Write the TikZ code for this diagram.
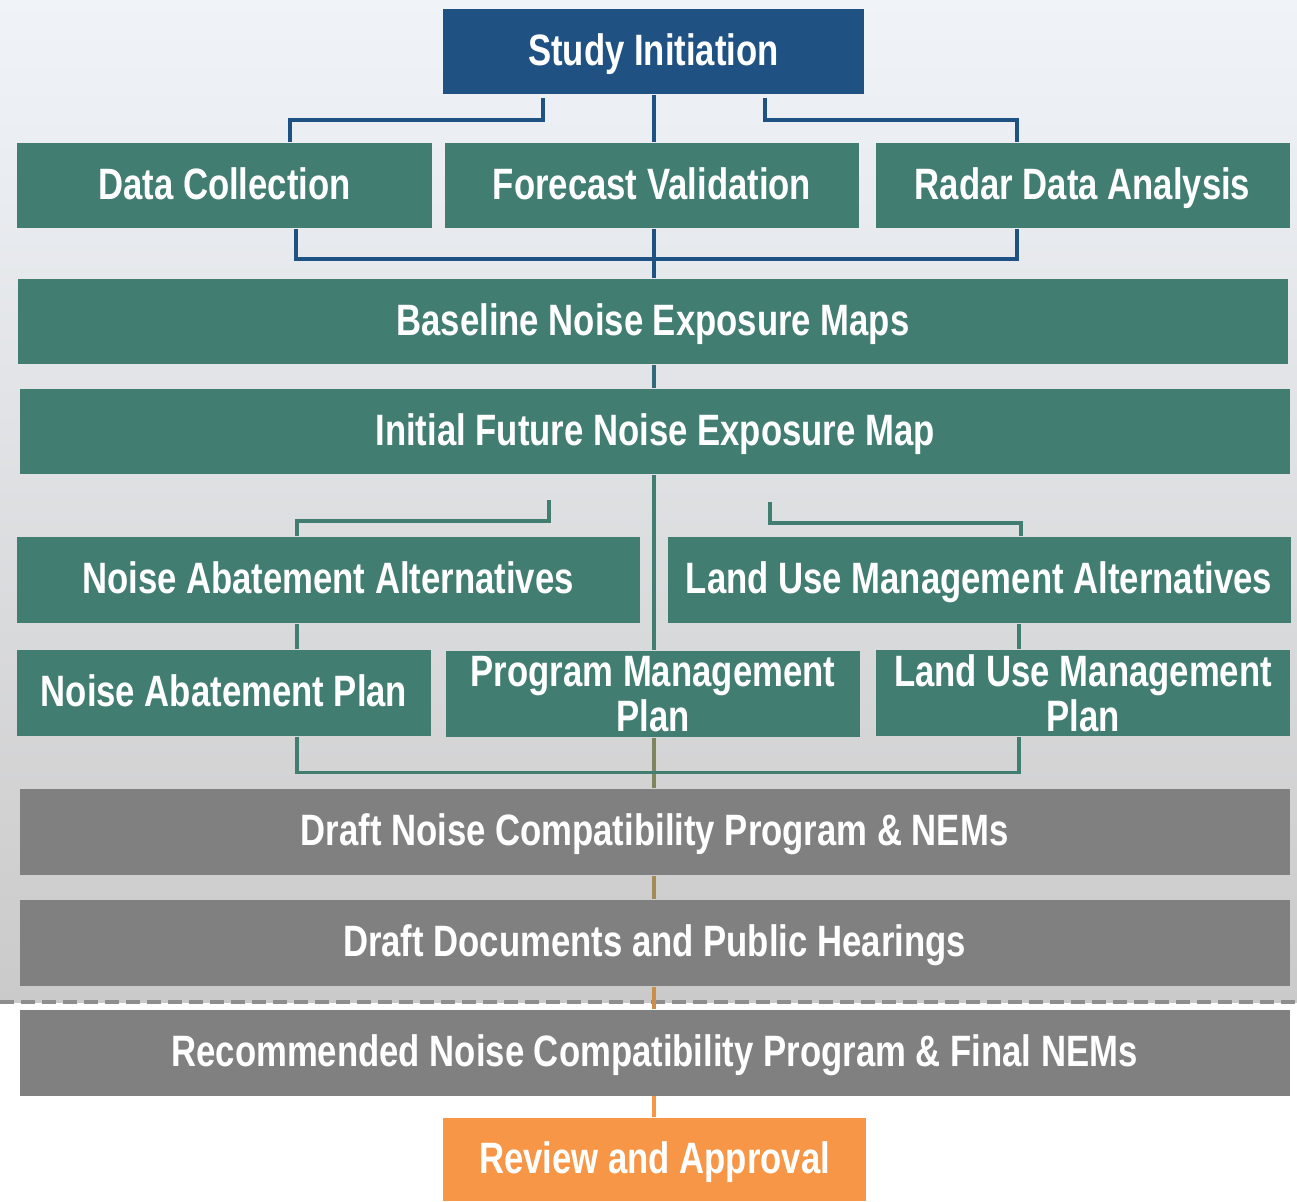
\documentclass[tikz,border=0pt]{standalone}
\usepackage{fontspec}
\setmainfont{Liberation Sans}[FakeStretch=0.79]

\definecolor{stepgreen}{HTML}{417D71}
\definecolor{stepblue}{HTML}{1F5282}
\definecolor{stepgray}{HTML}{808080}
\definecolor{steporange}{HTML}{F79646}
\definecolor{bgtop}{HTML}{F0F4F9}
\definecolor{bgbottom}{HTML}{CBCACA}

\begin{document}
\begin{tikzpicture}
  [box/.style={fill=stepgreen, text=white, inner sep=0pt, align=center,
     font=\bfseries\fontsize{12.5}{11.5}\selectfont, minimum height=0.85cm,
     text height=9pt, text depth=1.2pt},
   third/.style={box, minimum width=4.14cm},
   twoline/.style={third, minimum height=0.86cm, text height=, text depth=, yshift=-0.04cm},
   half/.style={box, minimum width=6.23cm, minimum height=0.86cm},
   wide/.style={box, minimum width=12.70cm},
   graywide/.style={wide, fill=stepgray, minimum height=0.86cm},
   bluelink/.style={draw=stepblue, line width=1.15pt},
   greenlink/.style={draw=stepgreen, line width=0.9pt},
   spinelink/.style={line width=1.15pt}]

  \useasboundingbox (0,0) rectangle (12.97,-12.01);

  % Fundo e linha tracejada
  \shade[top color=bgtop, bottom color=bgbottom] (0,0) rectangle (12.97,-10.02);
  \draw[stepgray!90, line width=1.1pt, dash pattern=on 0.14cm off 0.07cm]
    (0,-10.02) -- (12.97,-10.02);

  % Inicio do estudo
  \node[box, fill=stepblue, minimum width=4.21cm] (init) at (6.535,-0.515) {Study Initiation};

  % Primeira camada
  \node[third] (datacol) at (2.245,-1.855) {Data Collection};
  \node[third] (forecast) at (6.52,-1.855) {Forecast Validation};
  \node[third] (radar) at (10.825,-1.855) {Radar Data Analysis};

  % Mapas de exposicao
  \node[wide] (baseline) at (6.53,-3.215) {Baseline Noise Exposure Maps};
  \node[wide] (initfut) at (6.55,-4.315) {Initial Future Noise Exposure Map};

  % Alternativas
  \node[half] (naalt) at (3.28,-5.80) {Noise Abatement Alternatives};
  \node[half] (lumalt) at (9.79,-5.80) {Land Use Management Alternatives};

  % Planos
  \node[third, minimum height=0.86cm] (naplan) at (2.24,-6.93) {Noise Abatement Plan};
  \node[twoline] (pmplan) at (6.53,-6.90) {Program Management\\Plan};
  \node[twoline] (lumplan) at (10.83,-6.89) {Land Use Management\\Plan};

  % Documentos finais
  \node[graywide] (draftncp) at (6.545,-8.32) {Draft Noise Compatibility Program \& NEMs};
  \node[graywide] (draftdoc) at (6.545,-9.43) {Draft Documents and Public Hearings};
  \node[graywide] (recncp) at (6.545,-10.525) {Recommended Noise Compatibility Program \& Final NEMs};
  \node[box, fill=steporange, minimum width=4.23cm, minimum height=0.83cm] (review) at (6.545,-11.595) {Review and Approval};

  % Eixo central
  \coordinate (spine) at (6.54,0);
  \draw[bluelink] (spine |- init.south) -- (spine |- forecast.north);
  \draw[bluelink] (spine |- forecast.south) -- (spine |- baseline.north);
  \draw[spinelink, draw=stepblue!45!stepgreen] (spine |- baseline.south) -- (spine |- initfut.north);
  \draw[spinelink, draw=stepgreen] (spine |- initfut.south) -- (spine |- pmplan.north);
  \draw[spinelink, draw={rgb,255:red,126;green,134;blue,96}] (spine |- pmplan.south) -- (spine |- draftncp.north);
  \draw[spinelink, draw={rgb,255:red,164;green,138;blue,85}] (spine |- draftncp.south) -- (spine |- draftdoc.north);
  \draw[spinelink, draw={rgb,255:red,201;green,143;blue,72}] (spine |- draftdoc.south) -- (spine |- recncp.north);
  \draw[spinelink, draw=steporange] (spine |- recncp.south) -- (spine |- review.north);

  % Ligacoes da primeira camada
  \coordinate (dcA) at (5.43,-0.98);
  \coordinate (raA) at (7.65,-0.98);
  \draw[bluelink] (dcA) -- ++(0,-0.22) -| ([xshift=0.655cm]datacol.north);
  \draw[bluelink] (raA) -- ++(0,-0.22) -| ([xshift=-0.655cm]radar.north);
  \draw[bluelink] ([xshift=0.715cm]datacol.south) -- ++(0,-0.30) -| ([xshift=-0.655cm]radar.south);

  % Ligacoes das alternativas e planos
  \coordinate (naA) at (5.49,-5.00);
  \coordinate (luA) at (7.70,-5.02);
  \draw[greenlink] (naA) -- ++(0,-0.21) -| ([xshift=-0.31cm]naalt.north);
  \draw[greenlink] (luA) -- ++(0,-0.21) -| ([xshift=0.42cm]lumalt.north);
  \draw[greenlink] ([xshift=-0.31cm]naalt.south) -- ([xshift=-0.31cm]naalt.south |- naplan.north);
  \draw[greenlink] ([xshift=0.40cm]lumalt.south) -- ([xshift=0.40cm]lumalt.south |- lumplan.north);
  \draw[greenlink] ([xshift=-0.31cm]naalt.south |- naplan.south) -- ++(0,-0.36)
    -| ([xshift=0.40cm]lumalt.south |- lumplan.south);
\end{tikzpicture}
\end{document}
